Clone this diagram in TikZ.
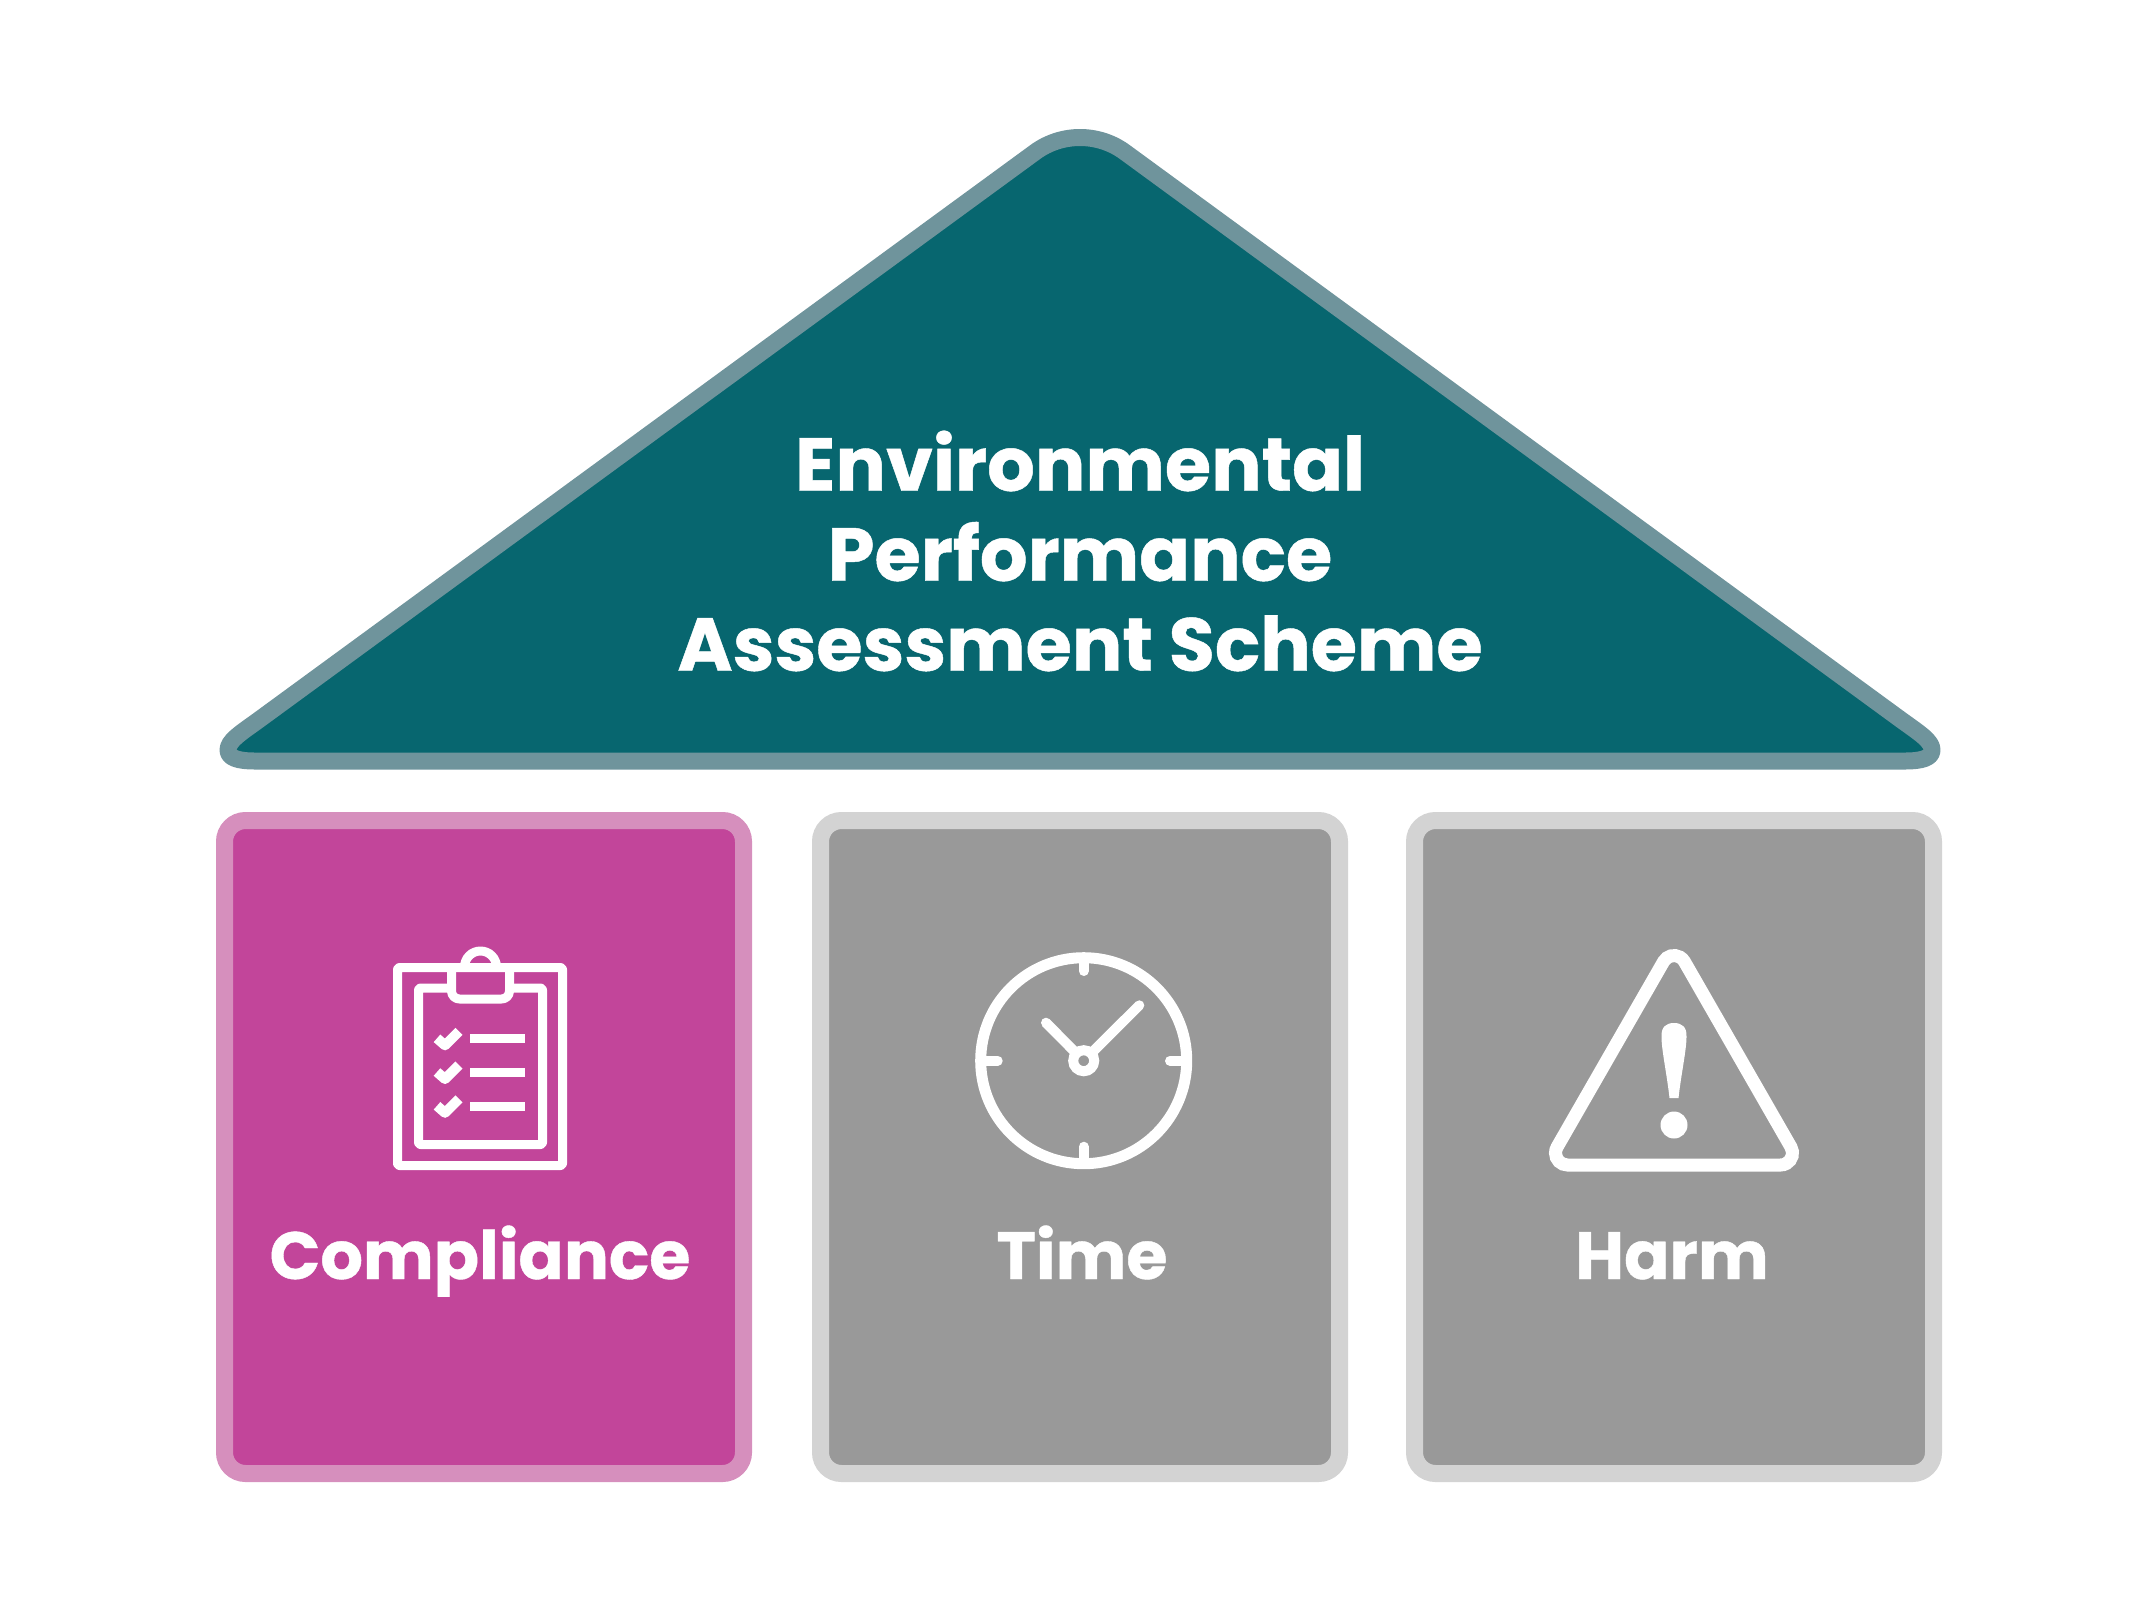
\documentclass[tikz,border=0pt]{standalone}
\usepackage{fontspec}
\setmainfont{Poppins}[BoldFeatures={FakeBold=0.6}]
\usepackage{xcolor}
\usetikzlibrary{positioning}
\definecolor{roofteal}{HTML}{07666F}
\definecolor{roofedge}{HTML}{6F949C}
\definecolor{magenta1}{HTML}{C2459A}
\definecolor{magenta2}{HTML}{D68FBD}
\definecolor{graybox}{HTML}{999999}
\definecolor{grayedge}{HTML}{D3D3D3}
\tikzstyle{roof}=[%
      draw=roofedge, line width=8.5pt, fill=roofteal, line join=round
]
\tikzstyle{tile}=[%
      rectangle, line width=8.5pt, rounded corners=10.5pt, inner sep=0pt,
      minimum width=259.5pt, minimum height=326.5pt
]
\tikzstyle{pinktile}=[tile, draw=magenta2, fill=magenta1]
\tikzstyle{greytile}=[tile, draw=grayedge, fill=graybox]
\tikzstyle{title}=[%
      text=white, font=\fontsize{37.5}{45}\selectfont\bfseries, align=center, inner sep=0pt
]
\tikzstyle{caption}=[%
      text=white, font=\fontsize{33.4}{40}\selectfont\bfseries, anchor=base, inner sep=0pt
]
\tikzstyle{board}=[draw=white, line width=4.5pt, line join=round, rounded corners=1pt]
\tikzstyle{dial}=[draw=white, line width=5pt, line cap=round]
\tikzstyle{warn}=[draw=white, line width=6.5pt]

\begin{document}
\begin{tikzpicture}[x=0.5pt,y=-0.5pt]
    \useasboundingbox (0,0) rectangle (2147,1618);

    \draw[roof] (258,720.5) -- (1035,152.2)
        .. controls (1048,142.6) and (1063.8,137.5) .. (1080,137.5)
        .. controls (1096.2,137.5) and (1112,142.6) .. (1125,152.2)
        -- (1902,720.5)
        .. controls (1920,733.5) and (1932,741) .. (1932,750)
        .. controls (1932,758) and (1922,761) .. (1905,761)
        -- (255,761)
        .. controls (238,761) and (228,758) .. (228,750)
        .. controls (228,741) and (240,733.5) .. (258,720.5)
        -- cycle;
    \node[title] (scheme) at (1080,551) {Environmental\\Performance\\Assessment Scheme};

    \node[pinktile] (compliance) at (484,1147) {};
    \node[greytile] (time) [right = 30pt of compliance] {};
    \node[greytile] (harm) [right = 29pt of time] {};

    \node[caption] (compliancetext) at (480,1279) {Compliance};
    \node[caption] (timetext) at (1082,1279) {Time};
    \node[caption] (harmtext) at (1672,1279) {Harm};

    % clipboard
    \draw[board] (397.5,967.5) rectangle (562.5,1165.5);
    \draw[board] (451.5,988) -- (418.5,988) -- (418.5,1144.5) -- (542.5,1144.5) -- (542.5,988) -- (509.5,988);
    \draw[board, rounded corners=4pt] (451.5,967.5) -- (451.5,999) -- (509.5,999) -- (509.5,967.5);
    \draw[board] (464.5,967) arc[start angle=180, end angle=360, radius=16];
    \draw[board, line width=5pt, rounded corners=0pt] (437,1038.3) -- (445,1045.3) -- (459,1031.3);
    \draw[board, line width=5pt, rounded corners=0pt] (437,1072) -- (445,1079) -- (459,1065);
    \draw[board, line width=5pt, rounded corners=0pt] (437,1105.8) -- (445,1112.8) -- (459,1098.8);
    \draw[board] (470,1038.8) -- (524.5,1038.8);
    \draw[board] (470,1072.5) -- (524.5,1072.5);
    \draw[board] (470,1106.3) -- (524.5,1106.3);

    % clock
    \draw[dial, line width=5.5pt] (1083.7,1060.7) circle[radius=103];
    \draw[dial] (1083.7,1060.7) circle[radius=10.5];
    \draw[dial] (1083.7,957.7) -- (1083.7,971);
    \draw[dial] (1083.7,1163.7) -- (1083.7,1146.7);
    \draw[dial] (980.7,1060.7) -- (997.7,1060.7);
    \draw[dial] (1186.7,1060.7) -- (1170,1060.7);
    \draw[dial, line cap=butt] (1076.3,1053.3) -- (1046,1022.7);
    \draw[dial, line cap=butt] (1091.1,1053.3) -- (1139.3,1005.3);
    \fill[white] (1046,1022.7) circle[radius=5] (1139.3,1005.3) circle[radius=5];

    % warning sign
    \draw[warn] (1663.6,961.5) arc[start angle=210, end angle=330, radius=12]
        -- (1790.9,1147) arc[start angle=-30, end angle=90, radius=12]
        -- (1567.5,1165) arc[start angle=90, end angle=210, radius=12] -- cycle;
    \fill[white] (1669.5,1098)
        .. controls (1667,1075) and (1661.5,1050) .. (1661.5,1037)
        .. controls (1661,1027) and (1666,1023) .. (1674,1023)
        .. controls (1682,1023) and (1687,1027) .. (1686.5,1037)
        .. controls (1686.5,1050) and (1681,1075) .. (1678.5,1098) -- cycle;
    \fill[white] (1674,1125) circle[radius=13.5];
\end{tikzpicture}
\end{document}
